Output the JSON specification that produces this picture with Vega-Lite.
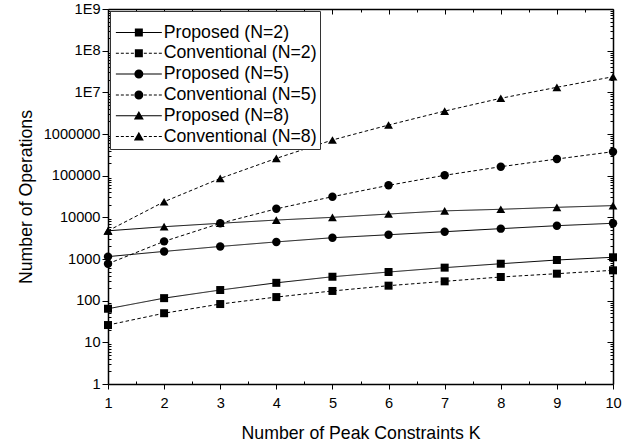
{
  "$schema": "https://vega.github.io/schema/vega-lite/v6.json",
  "width": 505,
  "height": 375,
  "autosize": {"type": "none"},
  "padding": {"left": 108, "top": 9, "right": 26, "bottom": 61},
  "config": {
    "view": {"stroke": null},
    "font": "Liberation Sans",
    "axis": {
      "grid": false,
      "domainColor": "#000",
      "domainWidth": 1.5,
      "tickColor": "#000",
      "tickWidth": 1,
      "labelColor": "#000",
      "titleColor": "#000",
      "labelFont": "Liberation Sans",
      "titleFont": "Liberation Sans",
      "labelFontSize": 14.6,
      "titleFontSize": 17.7,
      "titleFontWeight": "normal"
    }
  },
  "data": {
    "values": [
      {"K": 1, "value": 64, "type": "Proposed", "N": "2", "series": "Proposed (N=2)"},
      {"K": 2, "value": 115, "type": "Proposed", "N": "2", "series": "Proposed (N=2)"},
      {"K": 3, "value": 180, "type": "Proposed", "N": "2", "series": "Proposed (N=2)"},
      {"K": 4, "value": 268, "type": "Proposed", "N": "2", "series": "Proposed (N=2)"},
      {"K": 5, "value": 375, "type": "Proposed", "N": "2", "series": "Proposed (N=2)"},
      {"K": 6, "value": 487, "type": "Proposed", "N": "2", "series": "Proposed (N=2)"},
      {"K": 7, "value": 620, "type": "Proposed", "N": "2", "series": "Proposed (N=2)"},
      {"K": 8, "value": 770, "type": "Proposed", "N": "2", "series": "Proposed (N=2)"},
      {"K": 9, "value": 946, "type": "Proposed", "N": "2", "series": "Proposed (N=2)"},
      {"K": 10, "value": 1100, "type": "Proposed", "N": "2", "series": "Proposed (N=2)"},
      {"K": 1, "value": 26, "type": "Conventional", "N": "2", "series": "Conventional (N=2)"},
      {"K": 2, "value": 50, "type": "Conventional", "N": "2", "series": "Conventional (N=2)"},
      {"K": 3, "value": 83, "type": "Conventional", "N": "2", "series": "Conventional (N=2)"},
      {"K": 4, "value": 122, "type": "Conventional", "N": "2", "series": "Conventional (N=2)"},
      {"K": 5, "value": 171, "type": "Conventional", "N": "2", "series": "Conventional (N=2)"},
      {"K": 6, "value": 229, "type": "Conventional", "N": "2", "series": "Conventional (N=2)"},
      {"K": 7, "value": 291, "type": "Conventional", "N": "2", "series": "Conventional (N=2)"},
      {"K": 8, "value": 370, "type": "Conventional", "N": "2", "series": "Conventional (N=2)"},
      {"K": 9, "value": 444, "type": "Conventional", "N": "2", "series": "Conventional (N=2)"},
      {"K": 10, "value": 535, "type": "Conventional", "N": "2", "series": "Conventional (N=2)"},
      {"K": 1, "value": 1140, "type": "Proposed", "N": "5", "series": "Proposed (N=5)"},
      {"K": 2, "value": 1520, "type": "Proposed", "N": "5", "series": "Proposed (N=5)"},
      {"K": 3, "value": 2000, "type": "Proposed", "N": "5", "series": "Proposed (N=5)"},
      {"K": 4, "value": 2570, "type": "Proposed", "N": "5", "series": "Proposed (N=5)"},
      {"K": 5, "value": 3240, "type": "Proposed", "N": "5", "series": "Proposed (N=5)"},
      {"K": 6, "value": 3820, "type": "Proposed", "N": "5", "series": "Proposed (N=5)"},
      {"K": 7, "value": 4520, "type": "Proposed", "N": "5", "series": "Proposed (N=5)"},
      {"K": 8, "value": 5350, "type": "Proposed", "N": "5", "series": "Proposed (N=5)"},
      {"K": 9, "value": 6300, "type": "Proposed", "N": "5", "series": "Proposed (N=5)"},
      {"K": 10, "value": 7200, "type": "Proposed", "N": "5", "series": "Proposed (N=5)"},
      {"K": 1, "value": 770, "type": "Conventional", "N": "5", "series": "Conventional (N=5)"},
      {"K": 2, "value": 2650, "type": "Conventional", "N": "5", "series": "Conventional (N=5)"},
      {"K": 3, "value": 7180, "type": "Conventional", "N": "5", "series": "Conventional (N=5)"},
      {"K": 4, "value": 16000, "type": "Conventional", "N": "5", "series": "Conventional (N=5)"},
      {"K": 5, "value": 31300, "type": "Conventional", "N": "5", "series": "Conventional (N=5)"},
      {"K": 6, "value": 58600, "type": "Conventional", "N": "5", "series": "Conventional (N=5)"},
      {"K": 7, "value": 102000, "type": "Conventional", "N": "5", "series": "Conventional (N=5)"},
      {"K": 8, "value": 164000, "type": "Conventional", "N": "5", "series": "Conventional (N=5)"},
      {"K": 9, "value": 251000, "type": "Conventional", "N": "5", "series": "Conventional (N=5)"},
      {"K": 10, "value": 376000, "type": "Conventional", "N": "5", "series": "Conventional (N=5)"},
      {"K": 1, "value": 4750, "type": "Proposed", "N": "8", "series": "Proposed (N=8)"},
      {"K": 2, "value": 5960, "type": "Proposed", "N": "8", "series": "Proposed (N=8)"},
      {"K": 3, "value": 7200, "type": "Proposed", "N": "8", "series": "Proposed (N=8)"},
      {"K": 4, "value": 8600, "type": "Proposed", "N": "8", "series": "Proposed (N=8)"},
      {"K": 5, "value": 10000, "type": "Proposed", "N": "8", "series": "Proposed (N=8)"},
      {"K": 6, "value": 12000, "type": "Proposed", "N": "8", "series": "Proposed (N=8)"},
      {"K": 7, "value": 14300, "type": "Proposed", "N": "8", "series": "Proposed (N=8)"},
      {"K": 8, "value": 15600, "type": "Proposed", "N": "8", "series": "Proposed (N=8)"},
      {"K": 9, "value": 17400, "type": "Proposed", "N": "8", "series": "Proposed (N=8)"},
      {"K": 10, "value": 19100, "type": "Proposed", "N": "8", "series": "Proposed (N=8)"},
      {"K": 1, "value": 4750, "type": "Conventional", "N": "8", "series": "Conventional (N=8)"},
      {"K": 2, "value": 23700, "type": "Conventional", "N": "8", "series": "Conventional (N=8)"},
      {"K": 3, "value": 86000, "type": "Conventional", "N": "8", "series": "Conventional (N=8)"},
      {"K": 4, "value": 260000, "type": "Conventional", "N": "8", "series": "Conventional (N=8)"},
      {"K": 5, "value": 718000, "type": "Conventional", "N": "8", "series": "Conventional (N=8)"},
      {"K": 6, "value": 1640000, "type": "Conventional", "N": "8", "series": "Conventional (N=8)"},
      {"K": 7, "value": 3550000, "type": "Conventional", "N": "8", "series": "Conventional (N=8)"},
      {"K": 8, "value": 7200000, "type": "Conventional", "N": "8", "series": "Conventional (N=8)"},
      {"K": 9, "value": 13200000, "type": "Conventional", "N": "8", "series": "Conventional (N=8)"},
      {"K": 10, "value": 23700000, "type": "Conventional", "N": "8", "series": "Conventional (N=8)"}
    ]
  },
  "layer": [
    {
      "mark": {"type": "line", "color": "#000", "strokeWidth": 1},
      "encoding": {
        "x": {
          "field": "K", "type": "quantitative",
          "scale": {"domain": [1, 10], "nice": false, "zero": false},
          "axis": {"orient": "bottom", "values": [1, 2, 3, 4, 5, 6, 7, 8, 9, 10], "format": "d", "tickSize": 5, "labelPadding": 6, "labelFlush": false, "labelOverlap": false, "title": "Number of Peak Constraints K", "titlePadding": 15}
        },
        "y": {
          "field": "value", "type": "quantitative",
          "scale": {"type": "log", "domain": [1, 1000000000], "nice": false},
          "axis": {"orient": "left", "values": [1, 10, 100, 1000, 10000, 100000, 1000000, 10000000, 100000000, 1000000000], "labelExpr": "datum.value >= 10000000 ? '1E' + format(log(datum.value) / LN10, '.0f') : format(datum.value, 'd')", "tickSize": 6, "labelPadding": 2, "labelFlush": false, "labelOverlap": false, "title": "Number of Operations", "titlePadding": 8}
        },
        "detail": {"field": "series"},
        "strokeDash": {"field": "type", "type": "nominal", "scale": {"domain": ["Proposed", "Conventional"], "range": [[1, 0], [3.5, 2.5]]}, "legend": null}
      }
    },
    {
      "mark": {"type": "point", "filled": true, "opacity": 1, "color": "#000", "strokeWidth": 0},
      "encoding": {
        "x": {"field": "K", "type": "quantitative", "scale": {"domain": [1, 10], "nice": false, "zero": false}, "axis": null},
        "y": {"field": "value", "type": "quantitative", "scale": {"type": "log", "domain": [1, 1000000000], "nice": false}, "axis": null},
        "shape": {"field": "N", "type": "nominal", "scale": {"domain": ["2", "5", "8"], "range": ["square", "circle", "triangle-up"]}, "legend": null},
        "size": {"field": "N", "type": "ordinal", "scale": {"domain": ["2", "5", "8"], "range": [64, 78, 125]}, "legend": null}
      }
    },
    {
      "transform": [{"filter": "false"}],
      "mark": {"type": "point", "filled": true, "opacity": 1, "color": "#000", "strokeWidth": 0},
      "encoding": {
        "x": {"field": "K", "type": "quantitative", "scale": {"domain": [1, 10], "nice": false, "zero": false}, "axis": null},
        "y": {"field": "value", "type": "quantitative", "scale": {"type": "log", "domain": [1, 1000000000], "nice": false}, "axis": null},
        "shape": {
          "field": "series", "type": "nominal",
          "scale": {
            "domain": ["Proposed (N=2)", "Conventional (N=2)", "Proposed (N=5)", "Conventional (N=5)", "Proposed (N=8)", "Conventional (N=8)"],
            "range": [
              "M-3.83,-0.085H3.83V0.085H-3.83Z M-0.667,-0.667H0.667V0.667H-0.667Z",
              "M-3.83,-0.085H-3.33V0.085H-3.83Z M-3,-0.085H-2.5V0.085H-3Z M-2.17,-0.085H-1.67V0.085H-2.17Z M-1.33,-0.085H-0.83V0.085H-1.33Z M0.83,-0.085H1.33V0.085H0.83Z M1.67,-0.085H2.17V0.085H1.67Z M2.5,-0.085H3V0.085H2.5Z M3.33,-0.085H3.83V0.085H3.33Z M-0.667,-0.667H0.667V0.667H-0.667Z",
              "M-3.83,-0.085H3.83V0.085H-3.83Z M0.75,0A0.75,0.75 0 1,1 -0.75,0A0.75,0.75 0 1,1 0.75,0Z",
              "M-3.83,-0.085H-3.33V0.085H-3.83Z M-3,-0.085H-2.5V0.085H-3Z M-2.17,-0.085H-1.67V0.085H-2.17Z M-1.33,-0.085H-0.83V0.085H-1.33Z M0.83,-0.085H1.33V0.085H0.83Z M1.67,-0.085H2.17V0.085H1.67Z M2.5,-0.085H3V0.085H2.5Z M3.33,-0.085H3.83V0.085H3.33Z M0.75,0A0.75,0.75 0 1,1 -0.75,0A0.75,0.75 0 1,1 0.75,0Z",
              "M-3.83,-0.085H3.83V0.085H-3.83Z M0,-0.8L0.83,0.65L-0.83,0.65Z",
              "M-3.83,-0.085H-3.33V0.085H-3.83Z M-3,-0.085H-2.5V0.085H-3Z M-2.17,-0.085H-1.67V0.085H-2.17Z M-1.33,-0.085H-0.83V0.085H-1.33Z M0.83,-0.085H1.33V0.085H0.83Z M1.67,-0.085H2.17V0.085H1.67Z M2.5,-0.085H3V0.085H2.5Z M3.33,-0.085H3.83V0.085H3.33Z M0,-0.8L0.83,0.65L-0.83,0.65Z"
            ]
          },
          "legend": {
            "title": " ", "titleFontSize": 2, "titlePadding": 7,
            "orient": "top-left", "offset": 2,
            "symbolSize": 144, "symbolOffset": 17, "labelOffset": 16,
            "symbolFillColor": "#000", "symbolStrokeWidth": 0, "symbolOpacity": 1,
            "labelFont": "Liberation Sans", "labelFontSize": 17.7, "labelColor": "#000", "labelLimit": 400,
            "clipHeight": 19, "padding": 3, "rowPadding": 1.8,
            "strokeColor": "#333", "fillColor": "#fff"
          }
        }
      }
    },
    {
      "transform": [{"filter": "false"}],
      "mark": {"type": "point", "opacity": 0},
      "encoding": {
        "x": {"field": "K", "type": "quantitative", "scale": {"domain": [1, 10], "nice": false, "zero": false}, "axis": {"orient": "bottom", "values": [1.5, 2.5, 3.5, 4.5, 5.5, 6.5, 7.5, 8.5, 9.5], "labels": false, "domain": false, "tickSize": -3, "title": null}},
        "y": {"field": "value", "type": "quantitative", "scale": {"type": "log", "domain": [1, 1000000000], "nice": false}, "axis": {"orient": "left", "values": [2,3,4,5,6,7,8,9,20,30,40,50,60,70,80,90,200,300,400,500,600,700,800,900,2000,3000,4000,5000,6000,7000,8000,9000,20000,30000,40000,50000,60000,70000,80000,90000,200000,300000,400000,500000,600000,700000,800000,900000,2000000,3000000,4000000,5000000,6000000,7000000,8000000,9000000,20000000,30000000,40000000,50000000,60000000,70000000,80000000,90000000,200000000,300000000,400000000,500000000,600000000,700000000,800000000,900000000], "labels": false, "domain": false, "tickSize": -3, "title": null}}
      }
    },
    {
      "transform": [{"filter": "false"}],
      "mark": {"type": "point", "opacity": 0},
      "encoding": {
        "x": {"field": "K", "type": "quantitative", "scale": {"domain": [1, 10], "nice": false, "zero": false}, "axis": {"orient": "top", "values": [1, 2, 3, 4, 5, 6, 7, 8, 9, 10], "labels": false, "domain": true, "tickSize": -5, "title": null}},
        "y": {"field": "value", "type": "quantitative", "scale": {"type": "log", "domain": [1, 1000000000], "nice": false}, "axis": {"orient": "right", "values": [1, 10, 100, 1000, 10000, 100000, 1000000, 10000000, 100000000, 1000000000], "labels": false, "domain": true, "tickSize": -6, "title": null}}
      }
    },
    {
      "transform": [{"filter": "false"}],
      "mark": {"type": "point", "opacity": 0},
      "encoding": {
        "x": {"field": "K", "type": "quantitative", "scale": {"domain": [1, 10], "nice": false, "zero": false}, "axis": {"orient": "top", "values": [1.5, 2.5, 3.5, 4.5, 5.5, 6.5, 7.5, 8.5, 9.5], "labels": false, "domain": false, "tickSize": -3, "title": null}},
        "y": {"field": "value", "type": "quantitative", "scale": {"type": "log", "domain": [1, 1000000000], "nice": false}, "axis": {"orient": "right", "values": [2,3,4,5,6,7,8,9,20,30,40,50,60,70,80,90,200,300,400,500,600,700,800,900,2000,3000,4000,5000,6000,7000,8000,9000,20000,30000,40000,50000,60000,70000,80000,90000,200000,300000,400000,500000,600000,700000,800000,900000,2000000,3000000,4000000,5000000,6000000,7000000,8000000,9000000,20000000,30000000,40000000,50000000,60000000,70000000,80000000,90000000,200000000,300000000,400000000,500000000,600000000,700000000,800000000,900000000], "labels": false, "domain": false, "tickSize": -3, "title": null}}
      }
    }
  ],
  "resolve": {
    "scale": {"shape": "independent", "size": "independent", "strokeDash": "independent"},
    "axis": {"x": "independent", "y": "independent"}
  }
}
